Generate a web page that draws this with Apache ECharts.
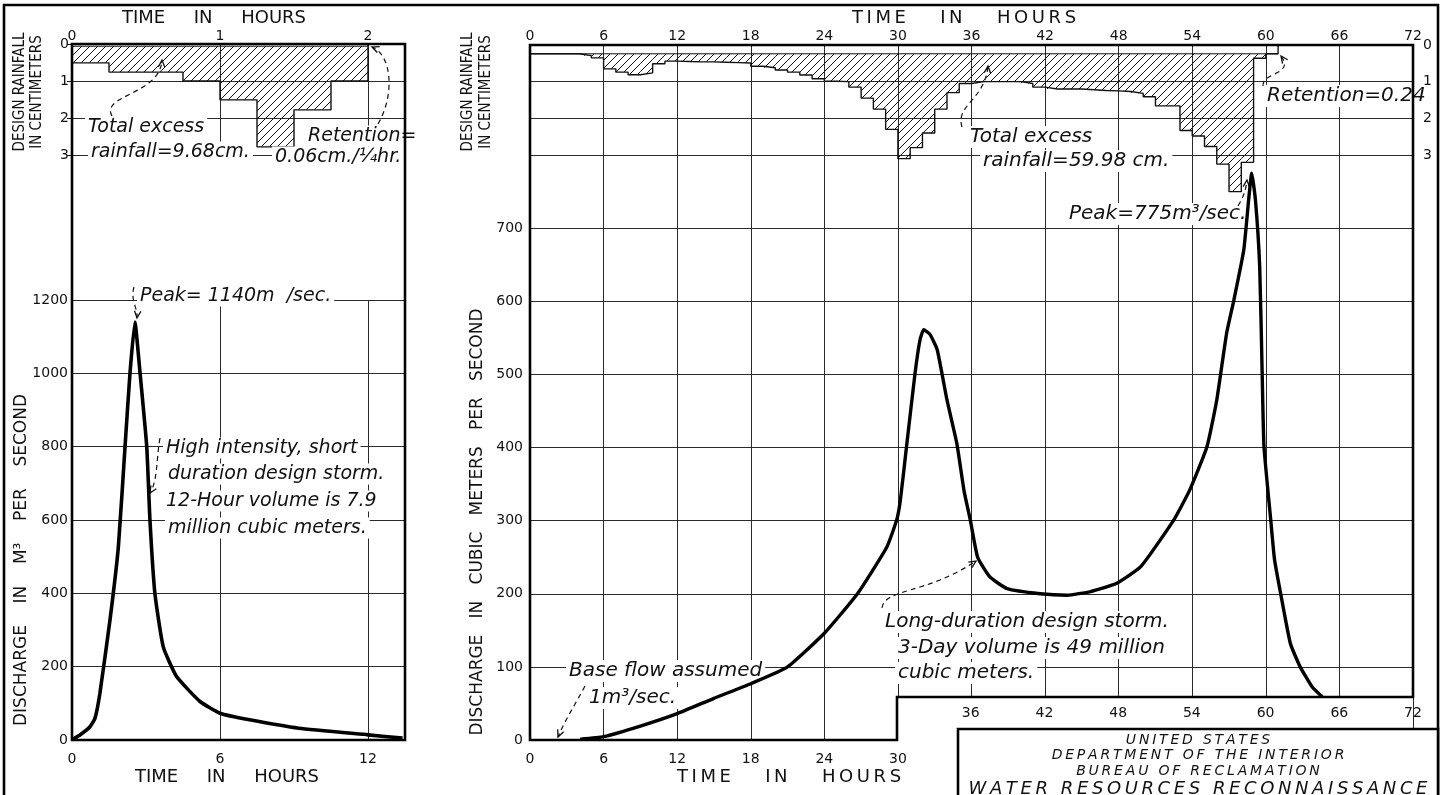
<!DOCTYPE html>
<html>
<head>
<meta charset="utf-8">
<title>Design storm hydrographs</title>
<script src="https://cdn.jsdelivr.net/npm/echarts@6.0.0/dist/echarts.min.js"></script>
<style>
html,body{margin:0;padding:0;background:#fff;}
#chart{width:1445px;height:795px;}
</style>
</head>
<body>
<div id="chart"></div>
<script>
// ================= DATA =================
// Short-duration storm: quarter-hour design rainfall (top axis in hours), cm
const shortRainStart = [0, 0.25, 0.5, 0.75, 1.0, 1.25, 1.5, 1.75];
const shortRainDepth = [0.51, 0.76, 0.76, 1.00, 1.51, 2.78, 1.78, 1.00];
const shortRainEnd = 2.0;
const shortRetention = 0.06;

// Short-duration storm hydrograph (hours, m3/s)
const shortTime = [0, 0.35, 0.73, 0.93, 1.13, 1.54, 1.88, 2.15, 2.35, 2.55, 2.76, 3.03, 3.16, 3.36, 3.70, 4.24, 5.19, 6.0, 7.2, 9.2, 12.0, 13.4];
const shortFlow = [0, 15, 36, 59, 127, 327, 527, 800, 1000, 1140, 1000, 800, 600, 400, 254, 173, 105, 73, 55, 32, 14, 5];

// Long-duration storm: hourly design rainfall depth (cm)
const longRainStart = [0,1,2,3,4,5,6,7,8,9,10,11,12,13,14,15,16,17,18,19,20,21,22,23,24,25,26,27,28,29,30,31,32,33,34,35,36,37,38,39,40,41,42,43,44,45,46,47,48,49,50,51,52,53,54,55,56,57,58,59,60];
const longRainDepth = [0.24,0.24,0.24,0.24,0.29,0.35,0.65,0.74,0.81,0.76,0.51,0.44,0.45,0.46,0.46,0.47,0.48,0.49,0.58,0.62,0.68,0.74,0.82,0.92,0.99,1.00,1.15,1.45,1.75,2.30,3.10,2.80,2.40,1.75,1.30,1.05,1.00,1.00,1.00,1.00,1.05,1.15,1.20,1.20,1.20,1.22,1.24,1.25,1.27,1.32,1.41,1.66,1.66,2.33,2.48,2.77,3.25,4.00,3.20,0.36,0.24];
const longRainEnd = 61;
const longRetention = 0.24;

// Long-duration storm hydrograph (hours, m3/s)
const longTime = [4.1, 6, 9, 12, 15, 18, 21, 24, 26.7, 29.1, 29.9, 30.2, 30.7, 31.4, 31.8, 32.1, 32.6, 33.2, 34.0, 34.8, 35.4, 35.9, 36.5, 37.5, 38.9, 41.6, 43.8, 45.7, 47.8, 49.8, 52.5, 53.8, 55.2, 56.0, 56.8, 57.4, 58.2, 58.6, 58.85, 59.15, 59.5, 59.7, 59.85, 60.4, 60.7, 61.2, 62.0, 62.8, 63.8, 64.6];
const longFlow = [1, 4.5, 19, 36, 57, 77, 100, 146, 200, 264, 301, 328, 401, 502, 547, 561, 555, 534, 465, 406, 340, 301, 250, 223, 207, 200, 198, 203, 214, 237, 301, 342, 401, 465, 556, 602, 670, 739, 775, 739, 647, 502, 401, 301, 248, 201, 132, 100, 72, 59];

// Tick labels
const leftTimeTicks = [0, 6, 12];
const leftRainTimeTicks = [0, 1, 2];
const leftFlowTicks = [0, 200, 400, 600, 800, 1000, 1200];
const rainDepthTicks = [0, 1, 2, 3];
const rightTimeTicks = [0, 6, 12, 18, 24, 30, 36, 42, 48, 54, 60, 66, 72];
const rightFlowTicks = [0, 100, 200, 300, 400, 500, 600, 700];

// ================= LAYOUT =================
const LG = {x0: 72, x1: 405, rainTop: 44, rainBot: 155, flowTop: 300, flowBot: 740};
const RG = {x0: 530, x1: 1413, rainTop: 45, rainBot: 155, flowTop: 155, flowBot: 740, notchX: 897, notchY: 697};

const FF = '"DejaVu Sans"';
const F = {
  name: '18px ' + FF,
  rot: '15px "DejaVu Sans Condensed", ' + FF,
  ann: 'italic 19px ' + FF,
  annR: 'italic 20px ' + FF,
  tb: 'italic 14px ' + FF,
  tbBig: 'italic 18px ' + FF
};

function hatchPattern() {
  const s = 8, c = document.createElement('canvas');
  c.width = s; c.height = s;
  const g = c.getContext('2d');
  g.strokeStyle = '#111'; g.lineWidth = 1;
  g.beginPath();
  g.moveTo(0, s); g.lineTo(s, 0);
  g.moveTo(-1, 1); g.lineTo(1, -1);
  g.moveTo(s - 1, s + 1); g.lineTo(s + 1, s - 1);
  g.stroke();
  return c;
}
const hatch = {image: hatchPattern(), repeat: 'repeat'};

// hyetograph: hatched excess blocks (custom), outline (step line), retention line
function rainSeries(starts, depths, end, ret, xi, yi) {
  const blocks = starts.map((t, i) => [t, i + 1 < starts.length ? starts[i + 1] : end, depths[i]]);
  const outline = starts.map((t, i) => [t, depths[i]]).concat([[end, 0]]);
  return [
    {type: 'custom', xAxisIndex: xi, yAxisIndex: yi, data: blocks, z: 3, silent: true,
     renderItem: function (params, api) {
       const a = api.coord([api.value(0), ret]);
       const b = api.coord([api.value(1), api.value(2)]);
       return {type: 'rect', shape: {x: a[0], y: a[1], width: b[0] - a[0], height: b[1] - a[1]},
               style: {fill: hatch, stroke: null}};
     }},
    {type: 'line', xAxisIndex: xi, yAxisIndex: yi, step: 'end', data: outline,
     symbol: 'none', clip: false, lineStyle: {color: '#111', width: 1.4}, z: 4},
    {type: 'line', xAxisIndex: xi, yAxisIndex: yi, data: [[starts[0], ret], [end, ret]],
     symbol: 'none', clip: false, lineStyle: {color: '#111', width: 1}, z: 4}
  ];
}

const splitL = {show: true, lineStyle: {color: '#2a2a2a', width: 1}};
const lbl = (o) => Object.assign({color: '#111', fontFamily: 'DejaVu Sans', fontSize: 14, formatter: v => String(v)}, o);

const option = {
  animation: false,
  backgroundColor: '#fff',
  grid: [
    {left: LG.x0, width: LG.x1 - LG.x0, top: LG.flowTop, height: LG.flowBot - LG.flowTop, containLabel: false, outerBoundsMode: 'none'},
    {left: LG.x0, width: LG.x1 - LG.x0, top: LG.rainTop, height: LG.rainBot - LG.rainTop, containLabel: false, outerBoundsMode: 'none'},
    {left: RG.x0, width: RG.x1 - RG.x0, top: RG.rainTop, height: RG.rainBot - RG.rainTop, containLabel: false, outerBoundsMode: 'none'},
    {left: RG.x0, width: RG.x1 - RG.x0, top: RG.flowTop, height: RG.flowBot - RG.flowTop, containLabel: false, outerBoundsMode: 'none'},
    {left: RG.notchX, width: RG.x1 - RG.notchX, top: RG.flowTop, height: RG.notchY - RG.flowTop, containLabel: false, outerBoundsMode: 'none'}
  ],
  xAxis: [
    {gridIndex: 0, type: 'value', min: leftTimeTicks[0], max: 13.5, interval: leftTimeTicks[1] - leftTimeTicks[0], position: 'bottom',
     axisLine: {show: false}, axisTick: {show: false}, splitLine: splitL,
     axisLabel: lbl({margin: 12, showMaxLabel: false})},
    {gridIndex: 1, type: 'value', min: leftRainTimeTicks[0], max: 2.25, interval: leftRainTimeTicks[1] - leftRainTimeTicks[0], position: 'top',
     axisLine: {show: false}, axisTick: {show: false}, splitLine: splitL,
     axisLabel: lbl({margin: 1, showMaxLabel: false})},
    {gridIndex: 2, type: 'value', min: rightTimeTicks[0], max: rightTimeTicks[rightTimeTicks.length - 1], interval: rightTimeTicks[1] - rightTimeTicks[0], position: 'top',
     axisLine: {show: false}, axisTick: {show: false}, splitLine: splitL,
     axisLabel: lbl({margin: 2})},
    {gridIndex: 3, type: 'value', min: rightTimeTicks[0], max: rightTimeTicks[rightTimeTicks.length - 1], interval: rightTimeTicks[1] - rightTimeTicks[0], position: 'bottom',
     axisLine: {show: false}, axisTick: {show: false}, splitLine: splitL,
     axisLabel: lbl({margin: 12, formatter: v => (v <= 30 ? String(v) : '')})},
    {gridIndex: 4, type: 'value', min: 30, max: rightTimeTicks[rightTimeTicks.length - 1], interval: rightTimeTicks[1] - rightTimeTicks[0], position: 'bottom', z: 12,
     axisLine: {show: false}, axisTick: {show: false}, splitLine: {show: false},
     axisLabel: lbl({margin: 9, showMinLabel: false})}
  ],
  yAxis: [
    {gridIndex: 0, type: 'value', min: leftFlowTicks[0], max: leftFlowTicks[leftFlowTicks.length - 1], interval: leftFlowTicks[1] - leftFlowTicks[0],
     axisLine: {show: false}, axisTick: {show: false}, splitLine: splitL,
     axisLabel: lbl({margin: 4})},
    {gridIndex: 1, type: 'value', inverse: true, min: rainDepthTicks[0], max: rainDepthTicks[rainDepthTicks.length - 1], interval: 1, position: 'left',
     axisLine: {show: false}, axisTick: {show: true, length: 5, lineStyle: {color: '#111'}}, splitLine: splitL,
     axisLabel: lbl({margin: 3})},
    {gridIndex: 2, type: 'value', inverse: true, min: rainDepthTicks[0], max: rainDepthTicks[rainDepthTicks.length - 1], interval: 1, position: 'right',
     axisLine: {show: false}, axisTick: {show: false}, splitLine: splitL,
     axisLabel: lbl({margin: 10})},
    {gridIndex: 3, type: 'value', min: rightFlowTicks[0], max: 800, interval: rightFlowTicks[1] - rightFlowTicks[0],
     axisLine: {show: false}, axisTick: {show: false}, splitLine: splitL,
     axisLabel: lbl({margin: 7, showMaxLabel: false})},
    {gridIndex: 4, type: 'value', min: 0, max: 1, show: false}
  ],
  series: [].concat(
    rainSeries(shortRainStart, shortRainDepth, shortRainEnd, shortRetention, 1, 1),
    rainSeries(longRainStart, longRainDepth, longRainEnd, longRetention, 2, 2),
    [
      {type: 'line', name: 'Short storm', xAxisIndex: 0, yAxisIndex: 0, data: shortTime.map((t, i) => [t, shortFlow[i]]),
       symbol: 'none', smooth: 0.15, lineStyle: {color: '#000', width: 3.6}, z: 45},
      {type: 'line', name: 'Long storm', xAxisIndex: 3, yAxisIndex: 3, data: longTime.map((t, i) => [t, longFlow[i]]),
       symbol: 'none', smooth: 0.15, lineStyle: {color: '#000', width: 3.4}, z: 45}
    ]
  )
};

// ================= ANNOTATIONS (graphic) =================
function T(x, y, s, o) {
  o = o || {};
  const al = o.align || 'left';
  return {type: 'text', x: x, y: y, z: o.z || 30, rotation: o.rot || 0,
    style: {text: s, fill: '#111', font: o.font || F.ann, align: al, textAlign: al,
      verticalAlign: 'middle', textVerticalAlign: 'middle',
      backgroundColor: o.bg === false ? 'transparent' : '#fff', padding: o.pad || [1, 3]}};
}
function arrow(p0, c1, c2, p1) {
  let dx = p1[0] - c2[0], dy = p1[1] - c2[1];
  const len = Math.hypot(dx, dy) || 1; dx /= len; dy /= len;
  const nx = -dy, ny = dx, a = 7, b = 3.2;
  return [
    {type: 'bezierCurve', z: 32, shape: {x1: p0[0], y1: p0[1], cpx1: c1[0], cpy1: c1[1], cpx2: c2[0], cpy2: c2[1], x2: p1[0], y2: p1[1]},
     style: {stroke: '#111', lineWidth: 1.2, lineDash: [5, 4], fill: null}},
    {type: 'polyline', z: 32, shape: {points: [[p1[0] - a * dx + b * nx, p1[1] - a * dy + b * ny], [p1[0], p1[1]], [p1[0] - a * dx - b * nx, p1[1] - a * dy - b * ny]]},
     style: {stroke: '#111', lineWidth: 1.3, fill: null}}
  ];
}
function spaced(s) { // letter spacing with thin spaces
  return s.split(' ').map(w => w.split('').join('\u2009')).join('\u2009 \u2009');
}
const frameStyle = {stroke: '#000', lineWidth: 2.6, fill: null};

const graphics = [
  {type: 'rect', z: 6, shape: {x: RG.notchX + 1, y: RG.notchY + 1, width: RG.x1 - RG.notchX - 2, height: RG.flowBot - RG.notchY + 2}, style: {fill: '#fff'}},
  {type: 'polyline', z: 40, shape: {points: [[4, 800], [4, 5], [1438, 5], [1438, 800]]}, style: frameStyle},
  {type: 'rect', z: 40, shape: {x: LG.x0, y: LG.rainTop, width: LG.x1 - LG.x0, height: LG.flowBot - LG.rainTop}, style: frameStyle},
  {type: 'polygon', z: 40, shape: {points: [[RG.x0, RG.rainTop], [RG.x1, RG.rainTop], [RG.x1, RG.notchY], [RG.notchX, RG.notchY], [RG.notchX, RG.flowBot], [RG.x0, RG.flowBot]]}, style: frameStyle},
  {type: 'rect', z: 40, shape: {x: 958, y: 729, width: 480, height: 80}, style: {fill: '#fff', stroke: '#000', lineWidth: 2.6}},
  T(1198, 740, spaced('UNITED STATES'), {font: F.tb, align: 'center', bg: false, z: 42}),
  T(1198, 755, spaced('DEPARTMENT OF THE INTERIOR'), {font: F.tb, align: 'center', bg: false, z: 42}),
  T(1198, 771, spaced('BUREAU OF RECLAMATION'), {font: F.tb, align: 'center', bg: false, z: 42}),
  T(1198, 789, spaced('WATER RESOURCES RECONNAISSANCE'), {font: F.tbBig, align: 'center', bg: false, z: 42}),

  T(214, 18, 'TIME     IN     HOURS', {font: F.name, align: 'center', bg: false}),
  T(964, 18, spaced('TIME') + '      ' + spaced('IN') + '      ' + spaced('HOURS'), {font: F.name, align: 'center', bg: false}),
  T(227, 777, 'TIME     IN     HOURS', {font: F.name, align: 'center', bg: false}),
  T(789, 777, spaced('TIME') + '      ' + spaced('IN') + '      ' + spaced('HOURS'), {font: F.name, align: 'center', bg: false}),
  T(20, 92, 'DESIGN RAINFALL', {font: F.rot, align: 'center', rot: Math.PI / 2, bg: false}),
  T(37, 92, 'IN CENTIMETERS', {font: F.rot, align: 'center', rot: Math.PI / 2, bg: false}),
  T(22, 560, 'DISCHARGE    IN    M³    PER    SECOND', {font: '17px ' + FF, align: 'center', rot: Math.PI / 2, bg: false}),
  T(468, 92, 'DESIGN RAINFALL', {font: F.rot, align: 'center', rot: Math.PI / 2, bg: false}),
  T(486, 92, 'IN CENTIMETERS', {font: F.rot, align: 'center', rot: Math.PI / 2, bg: false}),
  T(478, 522, 'DISCHARGE   IN   CUBIC   METERS   PER   SECOND', {font: '17px ' + FF, align: 'center', rot: Math.PI / 2, bg: false}),

  T(85, 127, 'Total excess'),
  T(88, 152, 'rainfall=9.68cm.'),
  T(305, 136, 'Retention='),
  T(272, 157, '0.06cm./¼hr.'),
  T(137, 296, 'Peak= 1140m  /sec.'),
  T(163, 448, 'High intensity, short'),
  T(165, 474, 'duration design storm.'),
  T(163, 501, '12-Hour volume is 7.9'),
  T(165, 528, 'million cubic meters.'),

  T(967, 137, 'Total excess', {font: F.annR}),
  T(980, 161, 'rainfall=59.98 cm.', {font: F.annR}),
  T(1264, 96, 'Retention=0.24', {font: F.annR}),
  T(1066, 214, 'Peak=775m³/sec.', {font: F.annR}),
  T(566, 671, 'Base flow assumed', {font: F.annR}),
  T(586, 698, '1m³/sec.', {font: F.annR}),
  T(882, 622, 'Long-duration design storm.', {font: F.annR}),
  T(895, 648, '3-Day volume is 49 million', {font: F.annR}),
  T(895, 673, 'cubic meters.', {font: F.annR})
].concat(
  arrow([112, 116], [100, 95], [160, 95], [162, 60]),
  arrow([378, 124], [395, 95], [392, 55], [372, 47]),
  arrow([134, 287], [130, 300], [138, 308], [137, 318]),
  arrow([160, 438], [156, 460], [158, 480], [150, 493]),
  arrow([962, 127], [955, 105], [985, 100], [988, 66]),
  arrow([1263, 86], [1262, 72], [1295, 75], [1281, 56]),
  arrow([1238, 206], [1243, 198], [1246, 190], [1247, 180]),
  arrow([882, 608], [885, 588], [925, 595], [976, 561]),
  arrow([585, 686], [575, 705], [565, 720], [558, 737])
);

option.graphic = {elements: graphics};

const chart = echarts.init(document.getElementById('chart'), null, {renderer: 'canvas', width: 1445, height: 795});
chart.setOption(option);
</script>
</body>
</html>
